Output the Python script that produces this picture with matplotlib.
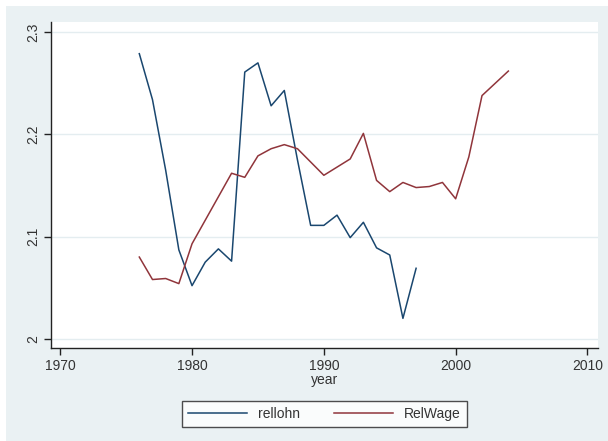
import matplotlib
matplotlib.use("Agg")
import matplotlib.pyplot as plt
from matplotlib.patches import Rectangle

years_rellohn = list(range(1976, 1998))
rellohn = [2.279, 2.234, 2.165, 2.087, 2.052, 2.075, 2.088, 2.076, 2.261, 2.270,
           2.228, 2.243, 2.175, 2.111, 2.111, 2.121, 2.099, 2.114, 2.089, 2.082,
           2.020, 2.069]

years_relwage = list(range(1976, 2005))
relwage = [2.080, 2.058, 2.059, 2.054, 2.093, 2.116, 2.139, 2.162, 2.158, 2.179,
           2.186, 2.190, 2.186, 2.173, 2.160, 2.168, 2.176, 2.201, 2.155, 2.144,
           2.153, 2.148, 2.149, 2.153, 2.137, 2.178, 2.238, 2.250, 2.262]

x_ticks = [1970, 1980, 1990, 2000, 2010]
y_ticks = [2, 2.1, 2.2, 2.3]
y_tick_labels = ["2", "2.1", "2.2", "2.3"]

W, H = 608, 441
plt.rcParams["font.family"] = ["Liberation Sans", "DejaVu Sans"]

fig = plt.figure(figsize=(W / 100, H / 100), dpi=100, facecolor="white")

# light graph region behind the plot area
bg = fig.add_axes([6 / W, 0, 1 - 6 / W, 1 - 6 / H], zorder=-5)
bg.set_facecolor("#eaf1f3")
bg.set_xticks([])
bg.set_yticks([])
for s in bg.spines.values():
    s.set_visible(False)

ax = fig.add_axes([51 / W, (H - 348) / H, (598 - 51) / W, (348 - 22) / H])
ax.set_facecolor("white")

ax.plot(years_rellohn, rellohn, color="#1a476f", lw=1.1, label="rellohn")
ax.plot(years_relwage, relwage, color="#90353b", lw=1.1, label="RelWage")

ax.set_xlim(1969.3, 2010.8)
ax.set_ylim(1.991, 2.310)
ax.set_xticks(x_ticks)
ax.set_xticklabels([str(t) for t in x_ticks])
ax.set_yticks(y_ticks)
ax.set_yticklabels(y_tick_labels, rotation=90, va="center")

for y in y_ticks:
    ax.axhline(y, color="#e4edf0", lw=1.0, zorder=0)

for side in ("top", "right"):
    ax.spines[side].set_visible(False)
for side in ("left", "bottom"):
    ax.spines[side].set_color("#222222")
    ax.spines[side].set_linewidth(1.0)

ax.tick_params(axis="both", direction="out", length=5, width=1.0,
               color="#222222", labelsize=10, labelcolor="#333333", pad=3)

ax.set_xlabel("year", fontsize=10, color="#333333", labelpad=0)

leg = ax.legend(loc="upper center", bbox_to_anchor=(0.5, -0.14), ncol=2,
                frameon=True, fancybox=False, fontsize=10, handlelength=4.2,
                columnspacing=2.5, borderpad=0.45)
leg.get_frame().set_edgecolor("#222222")
leg.get_frame().set_linewidth(1.0)
for t in leg.get_texts():
    t.set_color("#333333")

fig.savefig("out.png", dpi=100, facecolor=fig.get_facecolor())
